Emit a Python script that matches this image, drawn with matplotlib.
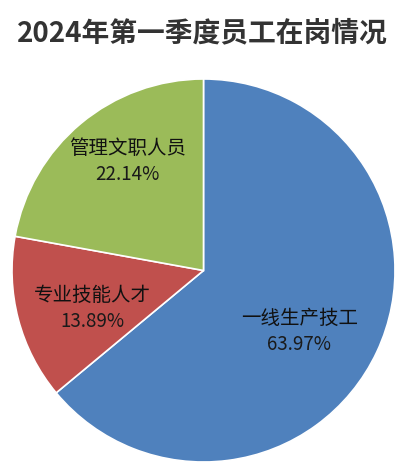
import matplotlib
matplotlib.use("Agg")
import matplotlib.pyplot as plt

plt.rcParams['font.family'] = ['Noto Sans CJK SC', 'DejaVu Sans']

categories = ["一线生产技工", "专业技能人才", "管理文职人员"]
shares = [63.97, 13.89, 22.14]
colors = ["#4F81BD", "#C0504D", "#9BBB59"]
# label anchor points (pie units, radius 1)
label_pos = [(0.50, -0.32), (-0.58, -0.196), (-0.395, 0.569)]

fig = plt.figure(figsize=(4, 4.66), dpi=100)
ax = fig.add_axes([12 / 400, 4 / 466, 383 / 400, 383 / 466])

ax.pie(shares, colors=colors, startangle=90, counterclock=False,
       wedgeprops=dict(edgecolor="white", linewidth=1.2))
ax.set_xlim(-1, 1)
ax.set_ylim(-1, 1)
ax.set_aspect("equal")

for name, val, (x, y) in zip(categories, shares, label_pos):
    ax.text(x, y + 0.068, name, ha="center", va="center", fontsize=14,
            color="#111111")
    ax.text(x, y - 0.068, f"{val:.2f}%", ha="center", va="center",
            fontsize=13.5, color="#1a1a1a")

fig.text(202 / 400, 1 - 33 / 466, "2024年第一季度员工在岗情况", ha="center",
         va="center", fontsize=20, fontweight="bold", color="#333333")

fig.savefig("out.png", dpi=100)
